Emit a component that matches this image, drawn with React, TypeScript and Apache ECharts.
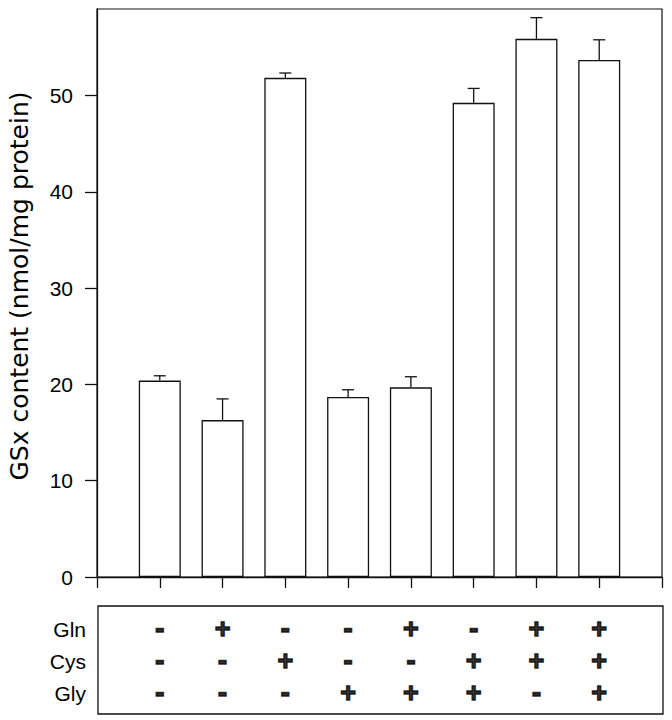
import React, { useEffect, useRef } from "react";
import * as echarts from "echarts";

// Treatment groups (positions along the x axis)
const groups = [1, 2, 3, 4, 5, 6, 7, 8];
// GSx content (nmol/mg protein), mean values
const means = [20.4, 16.3, 51.85, 18.7, 19.7, 49.25, 55.9, 53.7];
// upper error (SEM)
const sems = [0.5, 2.2, 0.5, 0.75, 1.1, 1.5, 2.2, 2.1];
// y tick values
const yTicks = [0, 10, 20, 30, 40, 50];
// table rows
const rowLabels = ["Gln", "Cys", "Gly"];
const glnSigns = ["-", "+", "-", "-", "+", "-", "+", "+"];
const cysSigns = ["-", "-", "+", "-", "-", "+", "+", "+"];
const glySigns = ["-", "-", "-", "+", "+", "+", "-", "+"];

const yTitle = "GSx content (nmol/mg protein)";

export default function App() {
  const ref = useRef<HTMLDivElement>(null);

  useEffect(() => {
    if (!ref.current) return;
    const chart = echarts.init(ref.current, null, { renderer: "svg" });
    const lineColor = "#111";
    const font = "'Liberation Sans', Arial, sans-serif";

    const signRows = [glnSigns, cysSigns, glySigns];
    const signData: any[] = [];
    signRows.forEach((row, r) => {
      row.forEach((s, i) => {
        signData.push([groups[i], rowLabels[r], s]);
      });
    });

    const option: any = {
      animation: false,
      backgroundColor: "#fff",
      grid: [
        {
          left: 97,
          right: 10,
          top: 9,
          bottom: 143,
          show: true,
          borderColor: lineColor,
          borderWidth: 1.2,
          backgroundColor: "transparent",
        },
        {
          left: 97,
          right: 10,
          top: 613,
          height: 96,
        },
      ],
      xAxis: [
        {
          type: "value",
          gridIndex: 0,
          min: 0,
          max: 9,
          interval: 1,
          axisLine: { show: true, lineStyle: { color: lineColor, width: 1.3 } },
          axisTick: { show: true, inside: false, length: 11, lineStyle: { color: lineColor, width: 1.3 } },
          axisLabel: { show: false },
          splitLine: { show: false },
        },
        {
          type: "value",
          gridIndex: 1,
          min: 0,
          max: 9,
          interval: 1,
          show: false,
        },
      ],
      yAxis: [
        {
          type: "value",
          gridIndex: 0,
          min: 0,
          max: 59,
          interval: 10,
          axisLine: { show: true, lineStyle: { color: lineColor, width: 1.3 } },
          axisTick: {
            show: true,
            inside: false,
            length: 12,
            customValues: yTicks,
            lineStyle: { color: lineColor, width: 1.3 },
          },
          axisLabel: {
            show: true,
            customValues: yTicks,
            margin: 24,
            fontSize: 21,
            fontFamily: font,
            color: "#000",
          },
          splitLine: { show: false },
        },
        {
          type: "category",
          gridIndex: 1,
          data: rowLabels,
          inverse: true,
          boundaryGap: true,
          axisLine: { show: false },
          axisTick: { show: false },
          axisLabel: {
            show: true,
            margin: 11,
            fontSize: 21,
            fontFamily: font,
            color: "#000",
          },
          splitLine: { show: false },
        },
      ],
      graphic: [
        {
          type: "rect",
          shape: { x: 98, y: 606, width: 565, height: 108 },
          style: { fill: "none", stroke: lineColor, lineWidth: 1.3 },
        },
        {
          type: "text",
          x: 19,
          y: 286,
          rotation: Math.PI / 2,
          style: {
            text: yTitle,
            fontSize: 25,
            fontFamily: "'DejaVu Sans', sans-serif",
            fill: "#000",
            align: "center",
            verticalAlign: "middle",
          },
        },
      ],
      series: [
        {
          type: "bar",
          xAxisIndex: 0,
          yAxisIndex: 0,
          barWidth: 42,
          data: groups.map((g, i) => [g, means[i]]),
          itemStyle: { color: "#fff", borderColor: lineColor, borderWidth: 1.3 },
        },
        {
          type: "custom",
          xAxisIndex: 0,
          yAxisIndex: 0,
          data: groups.map((g, i) => [g, means[i], sems[i]]),
          encode: { x: 0, y: 1 },
          z: 5,
          renderItem: (params: any, api: any) => {
            const x = api.value(0);
            const m = api.value(1);
            const e = api.value(2);
            const base = api.coord([x, m]);
            const top = api.coord([x, m + e]);
            const hw = 6;
            const st = { stroke: lineColor, lineWidth: 1.3 };
            return {
              type: "group",
              children: [
                { type: "line", shape: { x1: base[0], y1: base[1], x2: top[0], y2: top[1] }, style: st },
                { type: "line", shape: { x1: top[0] - hw, y1: top[1], x2: top[0] + hw, y2: top[1] }, style: st },
              ],
            };
          },
        },
        {
          type: "scatter",
          xAxisIndex: 1,
          yAxisIndex: 1,
          symbol: "rect",
          symbolSize: 1,
          itemStyle: { color: "rgba(0,0,0,0)" },
          data: signData,
          label: {
            show: true,
            position: "inside",
            formatter: (p: any) => (p.value[2] === "+" ? "{p|+}" : "{m|-}"),
            rich: {
              p: {
                fontSize: 27,
                fontWeight: "bold",
                fontFamily: font,
                color: "#000",
                textBorderColor: "#000",
                textBorderWidth: 1.4,
              },
              m: {
                fontSize: 27,
                fontWeight: "bold",
                fontFamily: font,
                color: "#000",
                textBorderColor: "#000",
                textBorderWidth: 1.6,
              },
            },
          },
        },
      ],
    };
    chart.setOption(option);
    return () => chart.dispose();
  }, []);

  return (
    <div
      ref={ref}
      style={{ position: "fixed", left: 0, top: 0, width: 672, height: 720, background: "#fff" }}
    />
  );
}
